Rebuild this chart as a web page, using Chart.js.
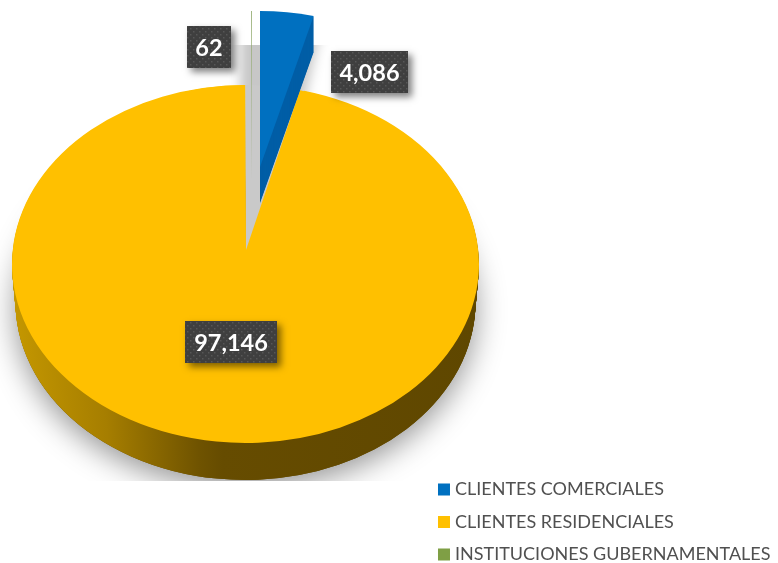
<!DOCTYPE html>
<html><head><meta charset="utf-8">
<style>html,body{margin:0;padding:0;background:#fff}#w{width:778px;height:563px;position:relative}</style>
<script src="https://cdn.jsdelivr.net/npm/chart.js@4"></script>
</head><body><div id="w"><canvas id="c" width="778" height="563"></canvas></div>
<script>
const categories = ['CLIENTES COMERCIALES','CLIENTES RESIDENCIALES','INSTITUCIONES GUBERNAMENTALES'];
const clientValues = [4086, 97146, 62];
const sliceColors = ['#0070c0','#ffc000','#7f9f45'];
const labelBoxes = [
  {x:331,y:51,w:77,h:42},
  {x:185,y:321,w:92,h:42},
  {x:187,y:26,w:44,h:42}
];

function place(ctx, arc, e){
  const R = arc.outerRadius;
  ctx.translate(e.x, e.y);
  ctx.scale(e.rx/R, e.ry/R);
  ctx.translate(-arc.x, -arc.y);
}
function paint(ctx, arc, e, color){
  const a = Object.create(arc);
  a.options = Object.assign({}, arc.options, {backgroundColor: color, borderWidth: 0});
  ctx.save();
  place(ctx, arc, e);
  a.draw(ctx);
  ctx.restore();
}
function sideGradient(ctx, arc){
  const g = ctx.createLinearGradient(arc.x-arc.outerRadius,0,arc.x+arc.outerRadius,0);
  g.addColorStop(0,'#c49700');
  g.addColorStop(0.2,'#a67e00');
  g.addColorStop(0.4,'#6f5300');
  g.addColorStop(0.45,'#664c00');
  g.addColorStop(1,'#5f4700');
  return g;
}
const pie3d = {
  id:'pie3d',
  beforeDatasetDraw(chart){
    const ctx = chart.ctx, arcs = chart.getDatasetMeta(0).data;
    const [blue,yellow,green] = arcs;
    const face = {x:245.5,y:264,rx:233.5,ry:179};
    const inner = {x:246,y:250,rx:215,ry:165};
    const blueFace = {x:260,y:167,rx:214,ry:156};
    const greenFace = {x:252,y:180,rx:215,ry:169};

    // shadows, cut off like the reference
    ctx.save();
    ctx.beginPath(); ctx.rect(0,45,778,436); ctx.clip();
    ctx.save();
    ctx.shadowColor='rgba(0,0,0,0.42)'; ctx.shadowBlur=30; ctx.shadowOffsetY=8;
    paint(ctx,yellow,{x:245.5,y:302,rx:230,ry:178},'#664c00');
    ctx.restore();
    // soft shadow of the pulled-out slices: union of two wedge shapes, shadow only
    const tmp = document.createElement('canvas');
    tmp.width = chart.width; tmp.height = chart.height;
    const tc = tmp.getContext('2d');
    paint(tc,blue,{x:240,y:250,rx:250,ry:225},'#000');
    paint(tc,blue,{x:270,y:250,rx:200,ry:225},'#000');
    ctx.shadowColor='rgba(0,0,0,0.22)'; ctx.shadowBlur=12;
    ctx.shadowOffsetX=2000;
    ctx.drawImage(tmp,-2000,0);
    ctx.restore();

    // yellow wall
    const grad = sideGradient(ctx,yellow);
    const depth = 38;
    for(let i=depth;i>=1;i--){
      const t=i/depth;
      paint(ctx,yellow,{x:245.5,y:264+t*38,rx:233.5-t*3.5,ry:179-t*1},grad);
    }
    // gap behind the slices
    paint(ctx,blue,face,'#c9c9c9');
    paint(ctx,green,face,'#c9c9c9');
    // top face
    paint(ctx,yellow,face,sliceColors[1]);
    paint(ctx,yellow,inner,sliceColors[1]);
    // green sliver
    paint(ctx,green,greenFace,'#8fa86a');
    // blue wedge
    for(let i=36;i>=1;i--) paint(ctx,blue,{x:260,y:167+i,rx:214,ry:156},'#005ea6');
    paint(ctx,blue,blueFace,sliceColors[0]);
    return false;
  },
  afterDatasetsDraw(chart){
    const ctx = chart.ctx;
    const pc = document.createElement('canvas'); pc.width=pc.height=6;
    const p = pc.getContext('2d');
    p.fillStyle='#3f3f3f'; p.fillRect(0,0,6,6);
    p.fillStyle='#575757'; p.fillRect(1,1,1.5,1.5); p.fillRect(4,4,1.5,1.5);
    const pattern = ctx.createPattern(pc,'repeat');
    clientValues.forEach((v,i)=>{
      const b = labelBoxes[i];
      ctx.save();
      ctx.shadowColor='rgba(0,0,0,0.5)'; ctx.shadowBlur=7; ctx.shadowOffsetX=4; ctx.shadowOffsetY=4;
      ctx.fillStyle='#3f3f3f'; ctx.fillRect(b.x,b.y,b.w,b.h);
      ctx.restore();
      ctx.fillStyle=pattern; ctx.fillRect(b.x,b.y,b.w,b.h);
      ctx.fillStyle='#fff';
      ctx.font='bold 23.5px Lato';
      ctx.textAlign='center'; ctx.textBaseline='middle';
      ctx.fillText(v.toLocaleString('en-US'), b.x+b.w/2, b.y+b.h/2+1);
    });
  }
};
new Chart(document.getElementById('c'),{
  type:'pie',
  data:{labels:categories,datasets:[{data:clientValues,backgroundColor:sliceColors,borderWidth:0}]},
  options:{
    responsive:false,animation:false,
    layout:{padding:{right:-2.5,bottom:-15}},
    plugins:{
      tooltip:{enabled:false},
      legend:{
        position:'right',align:'end',
        labels:{usePointStyle:true,pointStyle:'rect',boxWidth:4,boxHeight:12,padding:14.5,color:'#505050',font:{family:'Lato',size:18}}
      }
    }
  },
  plugins:[pie3d]
});
</script></body></html>
